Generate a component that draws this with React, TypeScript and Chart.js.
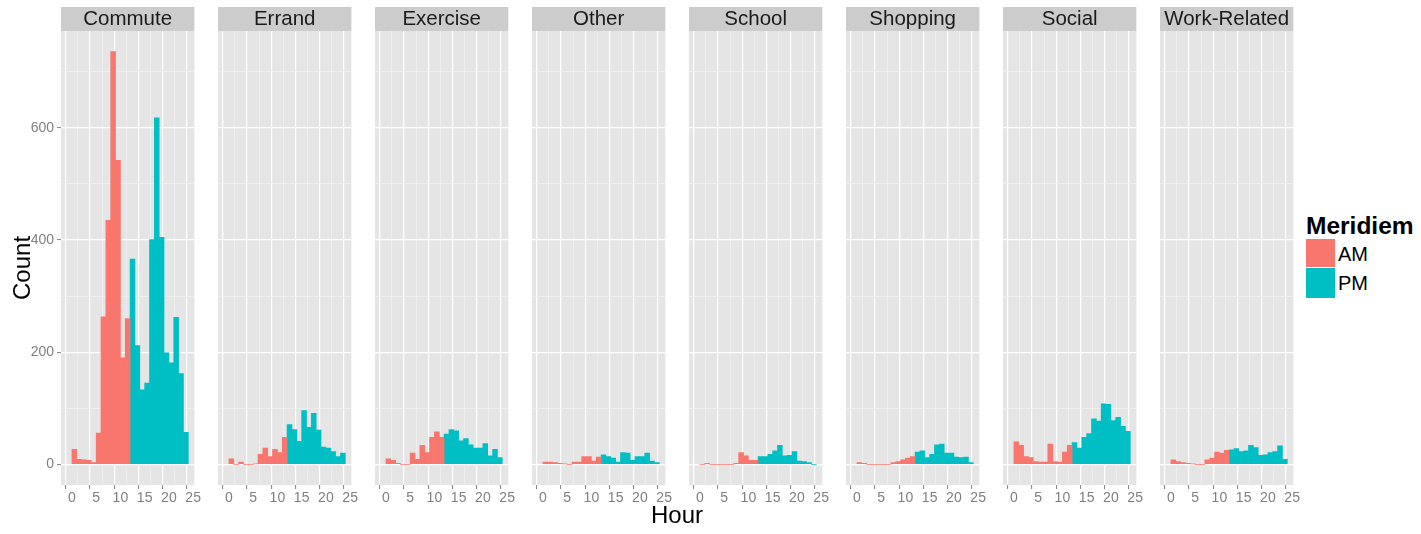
import React, { useEffect, useRef } from "react";
import { Chart, registerables } from "chart.js";

Chart.register(...registerables);
Chart.defaults.font.family = '"Liberation Sans", Arial, sans-serif';

// Trip purposes, one facet each
const facets = ["Commute", "Errand", "Exercise", "Other", "School", "Shopping", "Social", "Work-Related"];

// Hourly bin centres (one-hour bins)
const amBins = [0.5, 1.5, 2.5, 3.5, 4.5, 5.5, 6.5, 7.5, 8.5, 9.5, 10.5, 11.5];
const pmBins = [12.5, 13.5, 14.5, 15.5, 16.5, 17.5, 18.5, 19.5, 20.5, 21.5, 22.5, 23.5];

// Trip counts per hour bin, by purpose
const commuteAM = [27, 9, 8, 7, 3, 56, 263, 435, 736, 542, 190, 260];
const commutePM = [366, 212, 133, 145, 401, 618, 405, 199, 181, 262, 162, 57];
const errandAM = [10, 0, 4, 0, 0, 1, 18, 29, 14, 27, 21, 48];
const errandPM = [71, 62, 41, 96, 66, 91, 61, 31, 29, 23, 14, 20];
const exerciseAM = [10, 7, 2, 0, 0, 20, 9, 34, 21, 48, 58, 48];
const exercisePM = [54, 62, 60, 42, 46, 35, 29, 29, 37, 15, 27, 12];
const otherAM = [4, 4, 3, 2, 1, 0, 4, 4, 14, 14, 6, 13];
const otherPM = [17, 14, 11, 4, 21, 20, 7, 14, 14, 20, 6, 3];
const schoolAM = [0, 2, 0, 0, 0, 0, 0, 2, 21, 15, 7, 7];
const schoolPM = [14, 14, 18, 24, 34, 15, 16, 23, 6, 5, 3, 0];
const shoppingAM = [3, 2, 0, 0, 0, 0, 0, 3, 5, 8, 11, 14];
const shoppingPM = [22, 24, 12, 18, 35, 36, 20, 20, 13, 12, 13, 3];
const socialAM = [40, 34, 14, 12, 5, 4, 4, 36, 5, 4, 22, 34];
const socialPM = [39, 29, 48, 55, 81, 77, 108, 107, 78, 84, 68, 59];
const workAM = [8, 5, 3, 2, 1, 0, 0, 8, 11, 22, 20, 25];
const workPM = [26, 28, 23, 24, 34, 30, 16, 17, 21, 23, 33, 9];

const amSeries = [commuteAM, errandAM, exerciseAM, otherAM, schoolAM, shoppingAM, socialAM, workAM];
const pmSeries = [commutePM, errandPM, exercisePM, otherPM, schoolPM, shoppingPM, socialPM, workPM];

// Axis ticks (majors are labelled, minors only carry a light grid line)
const xTicks = [0, 2.5, 5, 7.5, 10, 12.5, 15, 17.5, 20, 22.5, 25];
const yTicks = [0, 100, 200, 300, 400, 500, 600, 700];
const xMin = -2.25;
const xMax = 25.25;
const yMin = -36.8;
const yMax = 772.8;

const AM_COLOR = "#F8766D";
const PM_COLOR = "#00BFC4";
const PANEL_BG = "#E5E5E5";
const STRIP_BG = "#CCCCCC";
const TICK_GREY = "#7F7F7F";

const PANEL_LEFT = 61;
const PANEL_PITCH = 157;
const PANEL_W = 137;
const SIDE = 4;
const CANVAS_H = 534;
const STRIP_TOP = 7;

const isMajorX = (v: number) => v % 5 === 0;
const isMajorY = (v: number) => v % 200 === 0;
const tickValue = (c: any) => (c && c.tick ? Number(c.tick.value) : 0);

// Grey panel background and facet strip behind the title
const facetBackground = {
  id: "facetBackground",
  beforeDraw(chart: any) {
    const { ctx, chartArea } = chart;
    ctx.save();
    ctx.fillStyle = PANEL_BG;
    ctx.fillRect(chartArea.left, chartArea.top, chartArea.right - chartArea.left, chartArea.bottom - chartArea.top);
    ctx.fillStyle = STRIP_BG;
    ctx.fillRect(chartArea.left, STRIP_TOP, chartArea.right - chartArea.left, chartArea.top - STRIP_TOP);
    ctx.restore();
  },
};

function Facet({ index }: { index: number }) {
  const ref = useRef<HTMLCanvasElement>(null);
  const first = index === 0;
  const left = first ? 0 : PANEL_LEFT + PANEL_PITCH * index - SIDE;
  const width = first ? PANEL_LEFT + PANEL_W + SIDE : PANEL_W + 2 * SIDE;

  useEffect(() => {
    if (!ref.current) return;
    const am = amSeries[index];
    const pm = pmSeries[index];
    const chart = new Chart(ref.current, {
      type: "bar",
      data: {
        datasets: [
          {
            label: "AM",
            data: amBins.map((x, i) => ({ x, y: am[i] })),
            backgroundColor: AM_COLOR,
            borderWidth: 0,
            grouped: false,
            barPercentage: 1,
            categoryPercentage: 1,
          },
          {
            label: "PM",
            data: pmBins.map((x, i) => ({ x, y: pm[i] })),
            backgroundColor: PM_COLOR,
            borderWidth: 0,
            grouped: false,
            barPercentage: 1,
            categoryPercentage: 1,
          },
        ],
      } as any,
      options: {
        animation: false,
        responsive: false,
        events: [],
        layout: { padding: { left: first ? 0 : SIDE, right: SIDE, top: 0, bottom: 0 } },
        plugins: {
          legend: { display: false },
          tooltip: { enabled: false },
          title: {
            display: true,
            text: facets[index],
            fullSize: false,
            color: "#1A1A1A",
            font: { size: 20.5, weight: "normal", lineHeight: "24px" },
            padding: { top: STRIP_TOP, bottom: 0 },
          },
        },
        scales: {
          x: {
            type: "linear",
            min: xMin,
            max: xMax,
            offset: false,
            afterBuildTicks: (axis: any) => {
              axis.ticks = xTicks.map((v) => ({ value: v }));
            },
            afterFit: (scale: any) => {
              scale.height = CANVAS_H - 485;
            },
            border: { display: false },
            grid: {
              color: (c: any) => (isMajorX(tickValue(c)) ? "#FFFFFF" : "#F2F2F2"),
              lineWidth: (c: any) => (isMajorX(tickValue(c)) ? 1.2 : 0.7),
              drawTicks: true,
              tickLength: 4,
              tickColor: (c: any) => (isMajorX(tickValue(c)) ? TICK_GREY : "rgba(0,0,0,0)"),
              tickWidth: 1,
            },
            ticks: {
              autoSkip: false,
              maxRotation: 0,
              padding: 1,
              color: TICK_GREY,
              font: { size: 14 },
              callback: (v: any) => (isMajorX(Number(v)) ? String(v) : ""),
            },
          },
          y: {
            type: "linear",
            min: yMin,
            max: yMax,
            afterBuildTicks: (axis: any) => {
              axis.ticks = yTicks.map((v) => ({ value: v }));
            },
            afterFit: (scale: any) => {
              scale.width = first ? PANEL_LEFT : 0;
            },
            border: { display: false },
            grid: {
              color: (c: any) => (isMajorY(tickValue(c)) ? "#FFFFFF" : "#F2F2F2"),
              lineWidth: (c: any) => (isMajorY(tickValue(c)) ? 1.2 : 0.7),
              drawTicks: first,
              tickLength: 4,
              tickColor: (c: any) => (isMajorY(tickValue(c)) ? TICK_GREY : "rgba(0,0,0,0)"),
              tickWidth: 1,
            },
            ticks: {
              display: first,
              autoSkip: false,
              padding: 3,
              color: TICK_GREY,
              font: { size: 14 },
              callback: (v: any) => (isMajorY(Number(v)) ? String(v) : ""),
            },
          },
        },
      } as any,
      plugins: [facetBackground],
    });
    return () => chart.destroy();
  }, [index]);

  return (
    <div style={{ position: "absolute", left, top: 0, width, height: CANVAS_H }}>
      <canvas ref={ref} width={width} height={CANVAS_H} style={{ display: "block" }} />
    </div>
  );
}

const textFont = '"Liberation Sans", Arial, sans-serif';

export default function App() {
  return (
    <div
      style={{
        position: "absolute",
        left: 0,
        top: 0,
        width: 1421,
        height: 534,
        background: "#FFFFFF",
        fontFamily: textFont,
        overflow: "hidden",
      }}
    >
      {facets.map((_, i) => (
        <Facet key={i} index={i} />
      ))}
      <div
        style={{
          position: "absolute",
          left: 22,
          top: 268,
          transform: "translate(-50%, -50%) rotate(-90deg)",
          fontSize: 24,
          lineHeight: "26px",
          color: "#000",
          whiteSpace: "nowrap",
        }}
      >
        Count
      </div>
      <div
        style={{
          position: "absolute",
          left: 677,
          top: 502,
          transform: "translateX(-50%)",
          fontSize: 24,
          lineHeight: "26px",
          color: "#000",
          whiteSpace: "nowrap",
        }}
      >
        Hour
      </div>
      <div
        style={{
          position: "absolute",
          left: 1306,
          top: 213,
          fontSize: 24.5,
          fontWeight: "bold",
          lineHeight: "26px",
          color: "#000",
          whiteSpace: "nowrap",
        }}
      >
        Meridiem
      </div>
      <div style={{ position: "absolute", left: 1306, top: 239, width: 29, height: 28, background: AM_COLOR }} />
      <div style={{ position: "absolute", left: 1306, top: 268, width: 29, height: 30, background: PM_COLOR }} />
      <div style={{ position: "absolute", left: 1338, top: 241, fontSize: 20, lineHeight: "26px", color: "#000" }}>AM</div>
      <div style={{ position: "absolute", left: 1338, top: 270, fontSize: 20, lineHeight: "26px", color: "#000" }}>PM</div>
    </div>
  );
}
